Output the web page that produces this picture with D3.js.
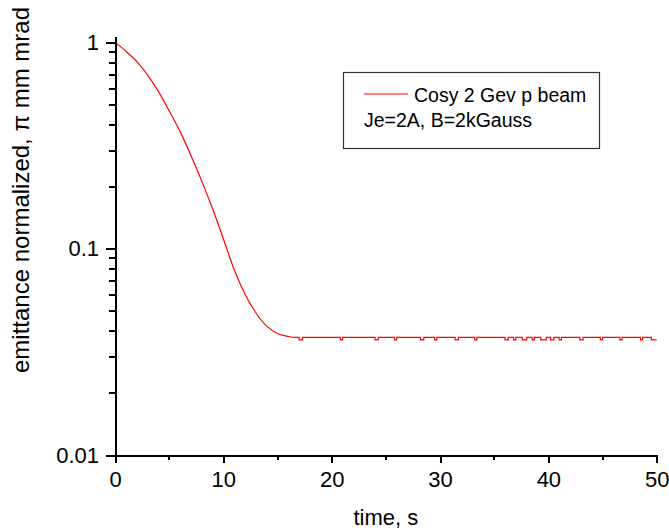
<!DOCTYPE html>
<html>
<head>
<meta charset="utf-8">
<script src="https://cdn.jsdelivr.net/npm/d3@7"></script>
<style>
  body { margin: 0; background: #fff; }
  svg { display: block; }
  text { font-family: Arial, 'Liberation Sans', sans-serif; fill: #000; }
  .axis path, .axis line { stroke: #000; stroke-width: 2px; shape-rendering: crispEdges; }
  .axis text { font-size: 22px; }
  .minor line { stroke: #000; stroke-width: 2px; shape-rendering: crispEdges; }
</style>
</head>
<body>
<div class="chart-container"></div>
<script>
// decay part of the emittance curve (time in s, emittance in pi mm mrad)
var decayTime = [0, 1, 2, 3, 4, 5, 6, 7, 8, 9, 10, 11, 12, 13, 14, 15, 16, 16.5];
var decayValue = [1.009, 0.912, 0.813, 0.700, 0.582, 0.468, 0.372, 0.285, 0.214, 0.157,
  0.112, 0.0794, 0.0603, 0.0490, 0.0422, 0.0389, 0.0376, 0.0372];

// flat, slightly jittery tail (step plot)
var tailTime = [16.5, 17.0, 17.3, 20.8, 21.0, 24.0, 24.3, 25.8, 26.0, 28.2, 28.5, 29.5, 29.7,
  31.4, 31.7, 33.2, 33.4, 36.0, 36.3, 36.8, 37.0, 37.6, 38.0, 38.5, 38.7, 39.3, 39.8,
  40.2, 40.5, 41.0, 41.2, 42.9, 43.2, 44.8, 45.0, 46.6, 46.8, 48.5, 48.7, 49.5, 50];
var tailValue = [0.0372, 0.0362, 0.0372, 0.0362, 0.0372, 0.0362, 0.0372, 0.0362, 0.0372, 0.0362, 0.0372, 0.0362, 0.0372,
  0.0362, 0.0372, 0.0362, 0.0372, 0.0362, 0.0372, 0.0362, 0.0372, 0.0362, 0.0372, 0.0362, 0.0372, 0.0362, 0.0372,
  0.0362, 0.0372, 0.0362, 0.0372, 0.0362, 0.0372, 0.0362, 0.0372, 0.0362, 0.0372, 0.0362, 0.0372, 0.0362, 0.0362];

var xTicks = [0, 10, 20, 30, 40, 50];
var xMinorTicks = [5, 15, 25, 35, 45];
var yTicks = [0.01, 0.1, 1];
var yTickLabels = ['0.01', '0.1', '1'];
var yMinorTicks = [0.02, 0.03, 0.04, 0.05, 0.06, 0.07, 0.08, 0.09,
  0.2, 0.3, 0.4, 0.5, 0.6, 0.7, 0.8, 0.9];

var legendLabel = 'Cosy 2 Gev p beam';
var legendNote = 'Je=2A, B=2kGauss';

var width = 669;
var height = 530;
var margin = { top: 36, right: 12.3, bottom: 75, left: 115 };

var svg = d3.select('.chart-container').append('svg')
  .attr('width', width)
  .attr('height', height);

var x = d3.scaleLinear()
  .domain([0, 50])
  .range([margin.left, width - margin.right]);

var y = d3.scaleLog()
  .domain([0.01, 1.08])
  .range([height - margin.bottom, margin.top]);

var x0 = x.range()[0];
var y0 = y.range()[0];

// the curve
var decayData = decayTime.map(function (t, i) { return { t: t, v: decayValue[i] }; });
var tailData = tailTime.map(function (t, i) { return { t: t, v: tailValue[i] }; });

var smoothLine = d3.line()
  .x(function (d) { return x(d.t); })
  .y(function (d) { return y(d.v); })
  .curve(d3.curveMonotoneX);

var stepLine = d3.line()
  .x(function (d) { return x(d.t); })
  .y(function (d) { return y(d.v); })
  .curve(d3.curveStepAfter);

svg.append('path')
  .datum(decayData)
  .attr('fill', 'none')
  .attr('stroke', '#ff0000')
  .attr('stroke-width', 1.2)
  .attr('d', smoothLine);

svg.append('path')
  .datum(tailData)
  .attr('fill', 'none')
  .attr('stroke', '#ff0000')
  .attr('stroke-width', 1.2)
  .attr('d', stepLine);

// minor ticks, shorter than the labelled ones
var minorX = svg.append('g').attr('class', 'minor');
minorX.selectAll('line')
  .data(xMinorTicks)
  .enter()
  .append('line')
    .attr('x1', function (d) { return Math.round(x(d)); })
    .attr('x2', function (d) { return Math.round(x(d)); })
    .attr('y1', y0)
    .attr('y2', y0 + 5);

var minorY = svg.append('g').attr('class', 'minor');
minorY.selectAll('line')
  .data(yMinorTicks)
  .enter()
  .append('line')
    .attr('x1', x0)
    .attr('x2', x0 - 6)
    .attr('y1', function (d) { return Math.round(y(d)); })
    .attr('y2', function (d) { return Math.round(y(d)); });

// major axes
svg.append('g')
  .attr('class', 'axis')
  .attr('transform', 'translate(0,' + y0 + ')')
  .call(d3.axisBottom(x).tickValues(xTicks).tickSize(8).tickSizeOuter(0).tickPadding(8));

svg.append('g')
  .attr('class', 'axis')
  .attr('transform', 'translate(' + x0 + ',0)')
  .call(d3.axisLeft(y).tickValues(yTicks).tickSize(9).tickSizeOuter(0).tickPadding(7)
    .tickFormat(function (d, i) { return yTickLabels[i]; }));

// axis titles
svg.append('text')
  .attr('x', (x.range()[0] + x.range()[1]) / 2)
  .attr('y', 525)
  .attr('text-anchor', 'middle')
  .style('font-size', '22px')
  .text('time, s');

svg.append('text')
  .attr('transform', 'translate(29,373) rotate(-90)')
  .attr('text-anchor', 'start')
  .style('font-size', '24px')
  .text('emittance normalized, \u03c0 mm mrad');

// legend
var legend = svg.append('g');

legend.append('rect')
  .attr('x', 343.5)
  .attr('y', 72.5)
  .attr('width', 256)
  .attr('height', 76)
  .attr('fill', '#fff')
  .attr('stroke', '#333')
  .attr('stroke-width', 1.2);

legend.append('line')
  .attr('x1', 364)
  .attr('x2', 408)
  .attr('y1', 94)
  .attr('y2', 94)
  .attr('stroke', '#ff0000')
  .attr('stroke-width', 1.2);

legend.append('text')
  .attr('x', 414)
  .attr('y', 102)
  .style('font-size', '19.5px')
  .text(legendLabel);

legend.append('text')
  .attr('x', 364)
  .attr('y', 127)
  .style('font-size', '19.5px')
  .text(legendNote);
</script>
</body>
</html>
